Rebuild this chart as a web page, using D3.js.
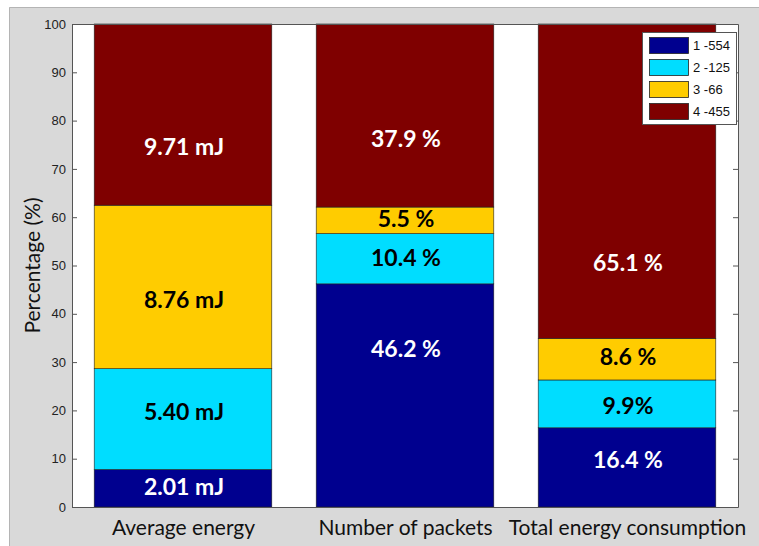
<!DOCTYPE html>
<html>
<head>
<meta charset="utf-8">
<script src="https://cdn.jsdelivr.net/npm/d3@7"></script>
<style>
  html, body { margin: 0; padding: 0; background: #ffffff; }
  svg { display: block; }
</style>
</head>
<body>
<svg id="chart" width="759" height="546"></svg>
<script>
// ---------------- data ----------------
const categories = ["Average energy", "Number of packets", "Total energy consumption"];
const seriesNames = ["1 -554", "2 -125", "3 -66", "4 -455"];
const seriesColors = ["#00008f", "#00ddff", "#ffcc00", "#7f0000"];

// Average energy per class (mJ); bar shows their share of the sum
const avgEnergy_mJ = [2.01, 5.40, 8.76, 9.71];
const packetsPct = [46.2, 10.4, 5.5, 37.9];
const totalEnergyPct = [16.4, 9.9, 8.6, 65.1];

const avgEnergyLabels = ["2.01 mJ", "5.40 mJ", "8.76 mJ", "9.71 mJ"];
const packetsLabels = ["46.2 %", "10.4 %", "5.5 %", "37.9 %"];
const totalEnergyLabels = ["16.4 %", "9.9%", "8.6 %", "65.1 %"];

// label heights (in % units) as placed in the original figure
const avgEnergyLabelY = [4.1, 19.7, 42.9, 74.6];
const packetsLabelY = [32.7, 51.6, 59.6, 76.2];
const totalEnergyLabelY = [9.7, 20.9, 31.1, 50.5];

const yTicks = [0, 10, 20, 30, 40, 50, 60, 70, 80, 90, 100];
const yLabel = "Percentage (%)";

// ---------------- build ----------------
const avgSum = d3.sum(avgEnergy_mJ);
const avgEnergyPct = avgEnergy_mJ.map(v => v / avgSum * 100);
const barValues = [avgEnergyPct, packetsPct, totalEnergyPct];
const barLabels = [avgEnergyLabels, packetsLabels, totalEnergyLabels];
const barLabelY = [avgEnergyLabelY, packetsLabelY, totalEnergyLabelY];

const svg = d3.select("#chart");
const W = 759, H = 546;
const plot = { left: 72, right: 738, top: 24, bottom: 507 };

// figure background
svg.append("rect").attr("x", 9).attr("y", 7).attr("width", W - 9).attr("height", H - 7)
  .attr("fill", "#d9d9d9");
svg.append("path").attr("d", `M9.5,${H}V7.5H${W}`).attr("fill", "none").attr("stroke", "#b4b4b4");

const x = d3.scaleLinear().domain([0.5, 3.5]).range([plot.left, plot.right]);
const y = d3.scaleLinear().domain([0, 100]).range([plot.bottom, plot.top]);
const barW = 0.8;

// axes background
svg.append("rect").attr("x", plot.left).attr("y", plot.top)
  .attr("width", plot.right - plot.left).attr("height", plot.bottom - plot.top)
  .attr("fill", "#ffffff");

// stacked segments
const segs = [];
barValues.forEach((vals, i) => {
  let base = 0;
  vals.forEach((v, k) => {
    segs.push({ cat: i + 1, k, y0: base, y1: base + v, label: barLabels[i][k], ly: barLabelY[i][k] });
    base += v;
  });
});

svg.append("g").selectAll("rect").data(segs).join("rect")
  .attr("x", d => x(d.cat - barW / 2))
  .attr("width", d => x(d.cat + barW / 2) - x(d.cat - barW / 2))
  .attr("y", d => y(d.y1))
  .attr("height", d => y(d.y0) - y(d.y1))
  .attr("fill", d => seriesColors[d.k])
  .attr("stroke", "#222")
  .attr("stroke-width", 0.6);

// segment labels
svg.append("g").selectAll("text").data(segs).join("text")
  .attr("x", d => x(d.cat) + 1)
  .attr("y", d => y(d.ly))
  .attr("dy", "0.36em")
  .attr("text-anchor", "middle")
  .attr("font-family", "Lato, 'Open Sans', sans-serif")
  .attr("font-weight", "bold")
  .attr("font-size", 23)
  .attr("fill", d => (d.k === 0 || d.k === 3) ? "#ffffff" : "#000000")
  .text(d => d.label);

// axes
const axisColor = "#555";
const yAxis = svg.append("g").attr("transform", `translate(${plot.left},0)`)
  .call(d3.axisLeft(y).tickValues(yTicks).tickSizeInner(-5).tickSizeOuter(0).tickPadding(6));
const yAxisR = svg.append("g").attr("transform", `translate(${plot.right},0)`)
  .call(d3.axisRight(y).tickValues(yTicks).tickSizeInner(-5).tickSizeOuter(0).tickFormat(""));
const xAxis = svg.append("g").attr("transform", `translate(0,${plot.bottom})`)
  .call(d3.axisBottom(x).tickValues([1, 2, 3]).tickSize(0).tickPadding(13)
    .tickFormat((d, i) => categories[i]));
const xAxisTop = svg.append("g").attr("transform", `translate(0,${plot.top})`)
  .call(d3.axisTop(x).tickValues([]).tickSizeOuter(0));

[yAxis, yAxisR, xAxis, xAxisTop].forEach(g => {
  g.selectAll(".domain").attr("stroke", axisColor);
  g.selectAll(".tick line").attr("stroke", axisColor);
});
yAxis.selectAll("text").attr("font-family", "'Liberation Sans Narrow', 'Liberation Sans', Arial, sans-serif")
  .attr("font-size", 13).attr("fill", "#222");
xAxis.selectAll("text").attr("font-family", "Lato, 'Open Sans', sans-serif")
  .attr("font-size", 21).attr("fill", "#111");

// y label
svg.append("text")
  .attr("transform", `translate(33,${(plot.top + plot.bottom) / 2}) rotate(-90)`)
  .attr("text-anchor", "middle")
  .attr("dy", "0.35em")
  .attr("font-family", "Lato, 'Open Sans', sans-serif")
  .attr("font-size", 21)
  .attr("fill", "#111")
  .text(yLabel);

// legend
const lg = svg.append("g").attr("transform", "translate(642,32)");
lg.append("rect").attr("x", 0.5).attr("y", 0.5).attr("width", 94).attr("height", 92)
  .attr("fill", "#ffffff").attr("stroke", "#555");
const rows = lg.selectAll("g.row").data(seriesNames).join("g")
  .attr("class", "row")
  .attr("transform", (d, i) => `translate(0,${13 + i * 22})`);
rows.append("rect").attr("x", 7.5).attr("y", -7.5).attr("width", 39).attr("height", 16)
  .attr("fill", (d, i) => seriesColors[i]).attr("stroke", "#222").attr("stroke-width", 0.8);
rows.append("text").attr("x", 51).attr("y", 0).attr("dy", "0.36em")
  .attr("font-family", "'Liberation Sans Narrow', 'Liberation Sans', Arial, sans-serif")
  .attr("font-size", 13).attr("fill", "#111")
  .text(d => d);
</script>
</body>
</html>
